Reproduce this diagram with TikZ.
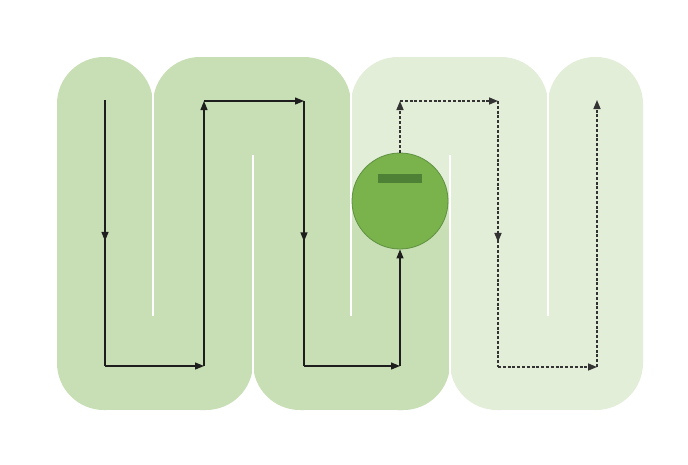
\documentclass[tikz,border=0pt]{standalone}
\usetikzlibrary{arrows.meta,decorations.markings}

\definecolor{bandDark}{HTML}{C8DFB5}
\definecolor{bandLight}{HTML}{E2EED8}
\definecolor{valveFill}{HTML}{7AB24C}
\definecolor{valveEdge}{HTML}{5E9140}
\definecolor{valveBar}{HTML}{4E8035}
\definecolor{flowInk}{HTML}{1E1E1E}
\definecolor{dashInk}{HTML}{333333}

\tikzset{
  lane/.style={fill=#1, rounded corners=47pt},
  slit/.style={draw=white, line width=2.4pt},
  flow/.style={draw=flowInk, line width=1.2pt, line join=miter},
  dashflow/.style={flow, draw=dashInk, line width=1.5pt, dash pattern=on 3pt off 1.8pt},
  tipped/.style={-{Triangle[length=9pt,width=7pt]}},
  midtip/.style={postaction={decorate},
    decoration={markings, mark=at position 0.53 with {\arrow{Triangle[length=9pt,width=7pt]}}}},
}

\begin{document}
\begin{tikzpicture}[x=1pt,y=-1pt]
  \useasboundingbox (0,0) rectangle (688,464);
  \fill[white] (0,0) rectangle (688,464);

  % ---- serpentine channel, one lane per column ----
  % column 1
  \fill[lane=bandDark] (57,57) rectangle (153,410);
  \fill[bandDark] (105,360) rectangle (153,410);
  % column 2
  \fill[lane=bandDark] (153,57) rectangle (253,410);
  \fill[bandDark] (203,57) rectangle (253,105);
  \fill[bandDark] (153,360) rectangle (203,410);
  % column 3
  \fill[lane=bandDark] (253,57) rectangle (351,410);
  \fill[bandDark] (253,57) rectangle (303,105);
  \fill[bandDark] (303,360) rectangle (351,410);
  % column 4 (light above the valve, dark below it)
  \fill[lane=bandLight] (351,57) rectangle (450,410);
  \fill[bandLight] (400,57) rectangle (450,105);
  \fill[bandLight] (351,360) rectangle (400,410);
  \shade[top color=bandLight, bottom color=bandDark] (351,180) rectangle (450,231);
  \fill[lane=bandDark] (351,230) rectangle (450,410);
  \fill[bandDark] (351,230) rectangle (450,350);
  \fill[bandDark] (351,360) rectangle (400,410);
  % column 5
  \fill[lane=bandLight] (450,57) rectangle (548,410);
  \fill[bandLight] (450,57) rectangle (500,105);
  \fill[bandLight] (500,360) rectangle (548,410);
  % column 6
  \fill[lane=bandLight] (548,57) rectangle (643,410);
  \fill[bandLight] (548,360) rectangle (596,410);

  % ---- partition walls between the lanes ----
  \draw[slit] (153,50) -- (153,316);
  \draw[slit] (253,417) -- (253,155);
  \draw[slit] (351,50) -- (351,316);
  \draw[slit] (450,417) -- (450,155);
  \draw[slit] (548,50) -- (548,316);

  % ---- valve ----
  \node[circle, minimum size=96pt, inner sep=0pt, fill=valveFill,
        draw=valveEdge, line width=0.8pt] (valve) at (400,201) {};
  \node[rectangle, fill=valveBar, minimum width=44pt, minimum height=9pt,
        inner sep=0pt] (bar) at (400,178.5) {};

  % ---- route points ----
  \coordinate (s0) at (105,100);
  \coordinate (s1) at (105,366);
  \coordinate (s2) at (204,366);
  \coordinate (s3) at (204,101);
  \coordinate (s4) at (304,101);
  \coordinate (s5) at (304,366);
  \coordinate (s6) at (400,366);
  \coordinate (d1) at (400,101);
  \coordinate (d2) at (498,101);
  \coordinate (d3) at (498,367);
  \coordinate (d4) at (597,367);
  \coordinate (d5) at (597,100);

  % ---- solid route up to the valve ----
  \draw[flow, midtip] (s0) -- (s1);
  \draw[flow, tipped] (s1) -- (s2);
  \draw[flow, tipped] (s2) -- (s3);
  \draw[flow, tipped] (s3) -- (s4);
  \draw[flow, midtip] (s4) -- (s5);
  \draw[flow, tipped] (s5) -- (s6);
  \draw[flow, tipped] (s6) -- (valve.south);

  % ---- dashed route past the valve ----
  \draw[dashflow, tipped] (valve.north) -- (d1);
  \draw[dashflow, tipped] (d1) -- (d2);
  \draw[dashflow, midtip] (d2) -- (d3);
  \draw[dashflow, tipped] (d3) -- (d4);
  \draw[dashflow, tipped] (d4) -- (d5);
\end{tikzpicture}
\end{document}
